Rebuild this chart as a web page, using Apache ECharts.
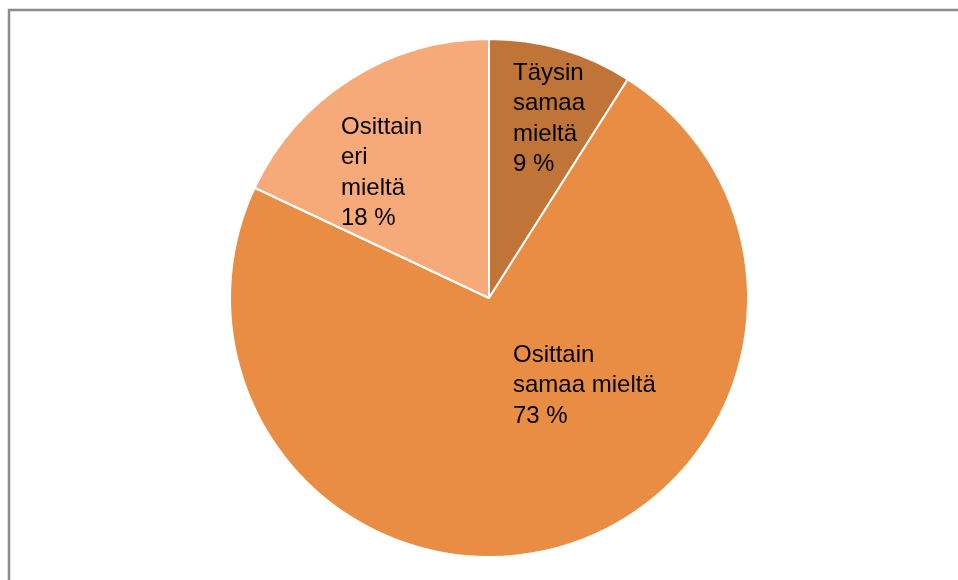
<!DOCTYPE html>
<html>
<head>
<meta charset="utf-8">
<style>
  html, body { margin: 0; padding: 0; background: #fff; }
  #chart { width: 958px; height: 580px; }
</style>
<script src="https://cdn.jsdelivr.net/npm/echarts@6/dist/echarts.min.js"></script>
</head>
<body>
<div id="chart"></div>
<script>
// Answer categories (line breaks as shown in the slice labels)
const categories = ['Täysin\nsamaa\nmieltä', 'Osittain\nsamaa mieltä', 'Osittain\neri\nmieltä'];
// Share of respondents, percent
const shares = [9, 73, 18];
const sliceColors = ['#C07438', '#E88D43', '#F6AA79'];

// Top-left anchor of each slice label block
const labelAnchors = [[513, 58], [513, 340], [341, 112]];

const chart = echarts.init(document.getElementById('chart'), null, { renderer: 'canvas' });

chart.setOption({
  animation: false,
  graphic: [{
    type: 'rect',
    shape: { x: 9, y: 10, width: 1000, height: 620 },
    style: { fill: 'none', stroke: '#8c8c8c', lineWidth: 2.5 },
    silent: true
  }],
  series: [{
    type: 'pie',
    center: [489, 298],
    radius: 259,
    startAngle: 90,
    clockwise: true,
    data: categories.map((name, i) => ({
      name: name,
      value: shares[i],
      itemStyle: { color: sliceColors[i] }
    })),
    itemStyle: { borderColor: '#ffffff', borderWidth: 2 },
    label: {
      show: true,
      position: 'inside',
      formatter: p => p.name + '\n' + p.value + ' %',
      color: '#000',
      fontFamily: 'Liberation Sans, Arial, sans-serif',
      fontSize: 24,
      lineHeight: 30.5,
      align: 'left'
    },
    labelLine: { show: false },
    labelLayout: p => ({
      x: labelAnchors[p.dataIndex][0],
      y: labelAnchors[p.dataIndex][1],
      align: 'left',
      verticalAlign: 'top'
    }),
    emphasis: { disabled: true }
  }]
});
</script>
</body>
</html>
